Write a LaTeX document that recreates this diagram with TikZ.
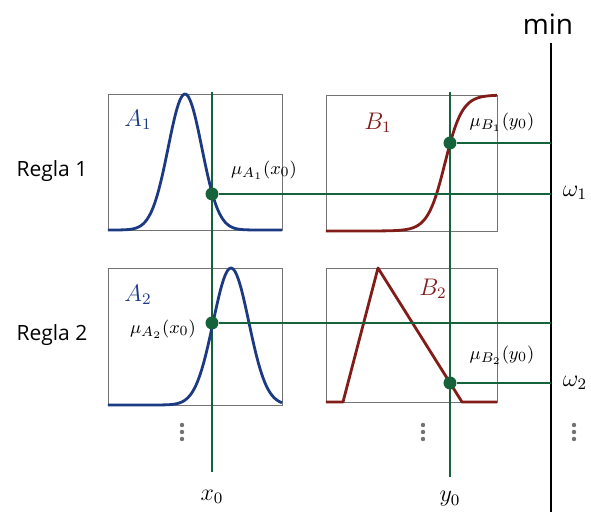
\documentclass[tikz,border=0pt]{standalone}
\usepackage{amsmath}
\usepackage{fontspec}
\newfontfamily\rulefont{Open Sans}
\usetikzlibrary{calc, positioning}
\definecolor{setblue}{RGB}{28,58,130}
\definecolor{setred}{RGB}{130,28,24}
\definecolor{cutgreen}{RGB}{22,98,58}

\begin{document}
\begin{tikzpicture}[x=0.5pt, y=-0.5pt,
  frame/.style={draw=black!55, line width=0.4pt},
  cut/.style={draw=cutgreen, line width=1.2pt},
  setA/.style={draw=setblue, line width=1.4pt, line join=round},
  setB/.style={draw=setred, line width=1.4pt, line join=round},
  hit/.style={circle, fill=cutgreen, inner sep=0pt, minimum size=6.5pt},
  moredot/.style={fill=black!55},
  rulelabel/.style={font=\rulefont\fontsize{10.5}{12}\selectfont},
  grade/.style={font=\fontsize{9.5}{11}\selectfont, inner sep=1pt},
  setname/.style={font=\fontsize{11.5}{13}\selectfont}]
\useasboundingbox (0,0) rectangle (591,512);

% frames
\draw[frame] (108,94) rectangle (282,230);
\draw[frame] (326,95) rectangle (497,231);
\draw[frame] (108,268) rectangle (282,405);
\draw[frame] (326,268) rectangle (497,402);

% key points
\coordinate (xTop) at (212,92);
\coordinate (xBot) at (212,472);
\coordinate (yTop) at (450,92);
\coordinate (yBot) at (450,477);
\coordinate (minTop) at (551,43);
\coordinate (minBot) at (551,512);

% input lines
\draw[cut] (xTop) -- (xBot);
\draw[cut] (yTop) -- (yBot);

% min line
\draw[line width=1.4pt] (minTop) -- (minBot);
\node[font=\rulefont\fontsize{14}{16}\selectfont] (minlabel) at (548,24) {min};

% Regla 1
\draw[setA] plot[domain=108:282, samples=90] (\x, {230-136*exp(-((\x-185)^2)/(2*16.8^2))});
\draw[setB] plot[domain=326:497, samples=90] (\x, {231-136/(1+exp(min(9,-(\x-445)/8.6)))});
\node[hit] (pA1) at (212,194) {};
\node[hit] (pB1) at (450,143) {};
\draw[cut] (pA1) -- (pA1 -| minTop);
\draw[cut] (pB1) -- (pB1 -| minTop);
\node[rulelabel] (regla1) at (52,171) {Regla 1};
\node[setname, text=setblue] (nameA1) at (138,120) {$A_1$};
\node[setname, text=setred] (nameB1) at (378,123) {$B_1$};
\node[grade] (gA1) at (264,170) {$\mu_{A_1}(x_0)$};
\node[grade] (gB1) at (502,122) {$\mu_{B_1}(y_0)$};
\node[setname] (w1) at (575,193) {$\omega_1$};

% Regla 2
\draw[setA] plot[domain=108:282, samples=90] (\x, {405-137*exp(-((\x-231)^2)/(2*17.8^2))});
\draw[setB] (326,402) -- (343,402) -- (378,268) -- (462,402) -- (497,402);
\node[hit] (pA2) at (212,323) {};
\node[hit] (pB2) at (450,383) {};
\draw[cut] (pA2) -- (pA2 -| minTop);
\draw[cut] (pB2) -- (pB2 -| minTop);
\node[rulelabel] (regla2) at (52,335) {Regla 2};
\node[setname, text=setblue] (nameA2) at (138,295) {$A_2$};
\node[setname, text=setred] (nameB2) at (433,289) {$B_2$};
\node[grade] (gA2) at (163,329) {$\mu_{A_2}(x_0)$};
\node[grade] (gB2) at (502,355) {$\mu_{B_2}(y_0)$};
\node[setname] (w2) at (575,383) {$\omega_2$};

% more rules
\foreach \dx in {182,423,574}
  \foreach \dy in {425,432,439}
    \fill[moredot] (\dx,\dy) circle (1.1pt);

% inputs
\node[setname] (x0) at (212,497) {$x_0$};
\node[setname] (y0) at (450,499) {$y_0$};
\end{tikzpicture}
\end{document}
